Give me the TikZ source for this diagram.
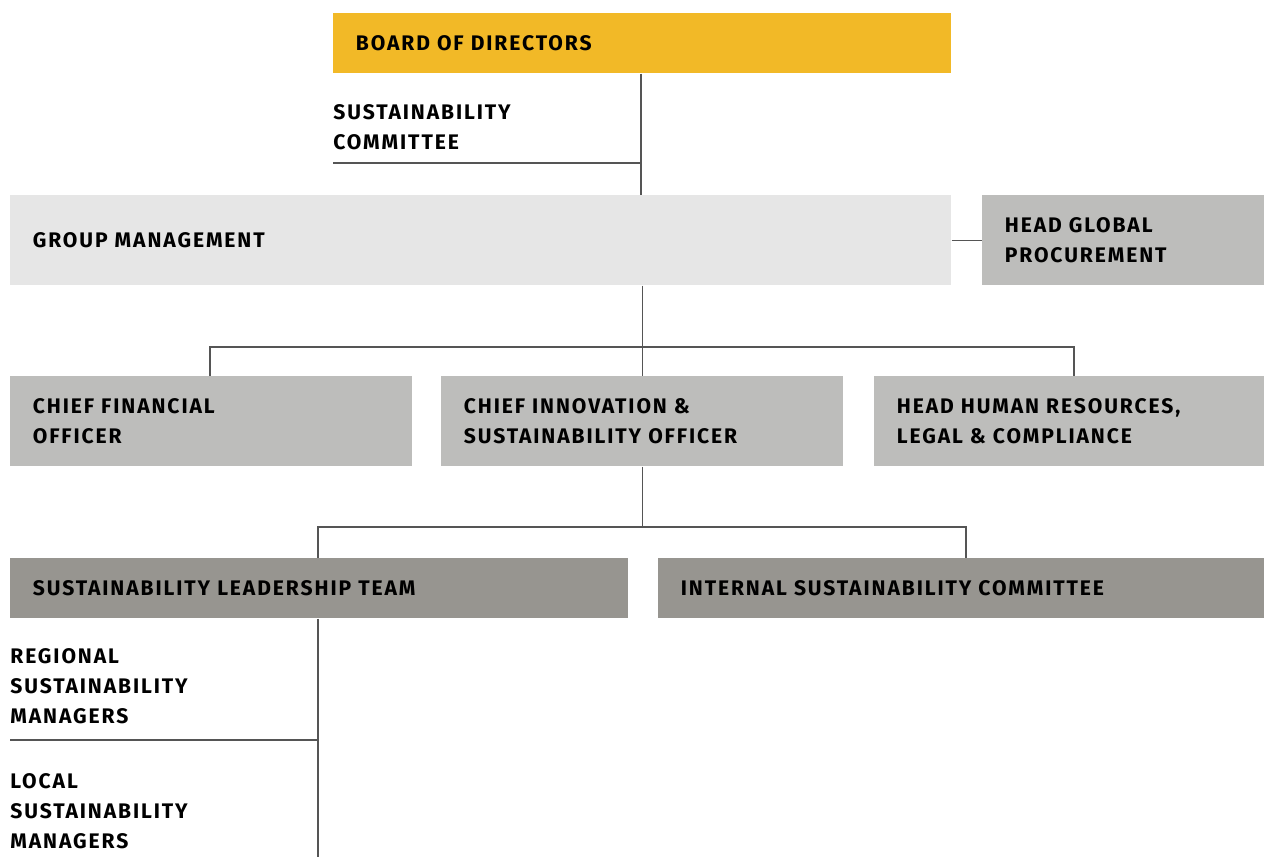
\documentclass[tikz,border=0pt]{standalone}
\usepackage{fontspec}
\setmainfont[LetterSpace=9]{Fira Sans}
\definecolor{boardyellow}{HTML}{F2B927}
\definecolor{mgmtgray}{HTML}{E6E6E6}
\definecolor{officergray}{HTML}{BDBDBB}
\definecolor{teamgray}{HTML}{979590}
\definecolor{linegray}{HTML}{555555}
\begin{document}
\begin{tikzpicture}[x=0.02cm, y=-0.02cm,
  every node/.style={font=\fontsize{12}{17}\selectfont\bfseries},
  box/.style={anchor=north west, inner xsep=0.45cm, inner ysep=0pt, align=left},
  label/.style={anchor=north west, inner sep=0pt, align=left},
  link/.style={draw=linegray, line width=0.6pt}]
\useasboundingbox (0,0) rectangle (1264,857);

% Board and committee
\node[box, fill=boardyellow, text width=11.46cm, minimum height=1.2cm] (board) at (333,13) {BOARD OF DIRECTORS};
\node[label] (sc) at (333,104) {SUSTAINABILITY\\COMMITTEE};
\coordinate (sc-l) at (333,163);

% Group management
\node[box, fill=mgmtgray, text width=17.92cm, minimum height=1.8cm] (gm) at (10,195) {GROUP MANAGEMENT};
\node[box, fill=officergray, text width=4.74cm, minimum height=1.8cm] (hgp) at (982,195) {HEAD GLOBAL\\PROCUREMENT};

% Officers
\node[box, fill=officergray, text width=7.14cm, minimum height=1.8cm] (cfo) at (10,376) {CHIEF FINANCIAL\\OFFICER};
\node[box, fill=officergray, text width=7.14cm, minimum height=1.8cm] (ciso) at (441,376) {CHIEF INNOVATION \&\\SUSTAINABILITY OFFICER};
\node[box, fill=officergray, text width=6.9cm, minimum height=1.8cm] (hhr) at (874,376) {HEAD HUMAN RESOURCES,\\LEGAL \& COMPLIANCE};

% Teams
\node[box, fill=teamgray, text width=11.46cm, minimum height=1.2cm] (slt) at (10,558) {SUSTAINABILITY LEADERSHIP TEAM};
\node[box, fill=teamgray, text width=11.22cm, minimum height=1.2cm] (isc) at (658,558) {INTERNAL SUSTAINABILITY COMMITTEE};

% Managers
\node[label] (rsm) at (10,648) {REGIONAL\\SUSTAINABILITY\\MANAGERS};
\coordinate (rsm-l) at (10,740);
\node[label] (lsm) at (10,773) {LOCAL\\SUSTAINABILITY\\MANAGERS};
\coordinate (end) at (318,857);

% Lines
\draw[link] (board.south -| 641,0) -- (gm.north -| 641,0);
\draw[link] (sc-l) -- (sc-l -| 641,0);
\draw[link] (gm.east) -- (hgp.west);
\draw[link] (gm.south -| ciso) -- (ciso.north);
\draw[link] (210,376) -- (210,347) -| (1074,376);
\draw[link] (ciso.south) -- (ciso.south |- 0,527);
\draw[link] (318,558) -- (318,527) -| (966,558);
\draw[link] (slt.south -| end) -- (end);
\draw[link] (rsm-l) -- (rsm-l -| end);
\end{tikzpicture}
\end{document}
